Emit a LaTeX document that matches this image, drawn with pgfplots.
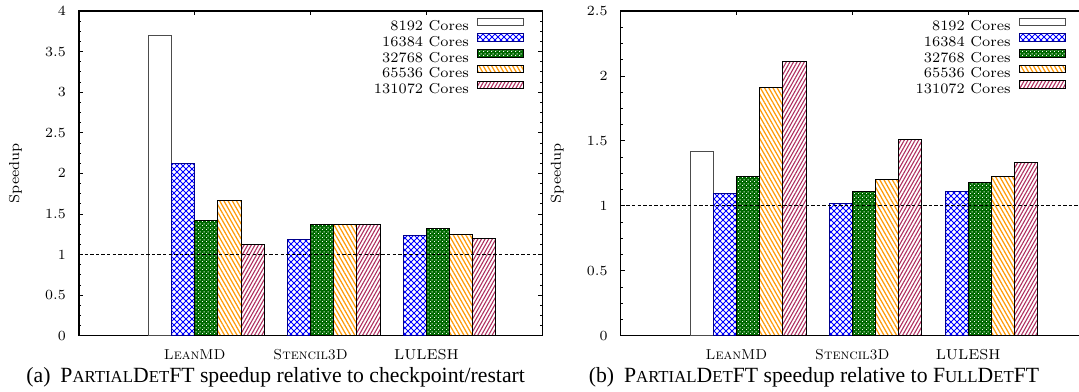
\documentclass[border=0pt]{standalone}
\usepackage{fontspec}
\usepackage{pgfplots}
\pgfplotsset{compat=1.18}
\usetikzlibrary{patterns}
\newfontfamily\capfont{Liberation Serif}

\definecolor{dkgreen}{RGB}{0,105,0}
\definecolor{gorange}{RGB}{255,155,10}
\definecolor{gmaroon}{RGB}{176,48,96}
\definecolor{dkblue}{RGB}{0,0,140}

\pgfdeclarepatternformonly{dcross}{\pgfqpoint{-0.5pt}{-0.5pt}}{\pgfqpoint{3.5pt}{3.5pt}}{\pgfqpoint{3pt}{3pt}}{%
  \pgfsetlinewidth{0.38pt}%
  \pgfpathmoveto{\pgfqpoint{0pt}{0pt}}\pgfpathlineto{\pgfqpoint{3pt}{3pt}}%
  \pgfpathmoveto{\pgfqpoint{0pt}{3pt}}\pgfpathlineto{\pgfqpoint{3pt}{0pt}}%
  \pgfusepath{stroke}}
\pgfdeclarepatternformonly{gdots}{\pgfqpoint{0pt}{0pt}}{\pgfqpoint{1.8pt}{1.8pt}}{\pgfqpoint{1.8pt}{1.8pt}}{%
  \pgfpathrectangle{\pgfqpoint{0pt}{0pt}}{\pgfqpoint{0.55pt}{0.55pt}}%
  \pgfpathrectangle{\pgfqpoint{0.9pt}{0.9pt}}{\pgfqpoint{0.55pt}{0.55pt}}%
  \pgfusepath{fill}}
\pgfdeclarepatternformonly{olines}{\pgfqpoint{-0.5pt}{-0.5pt}}{\pgfqpoint{2.6pt}{4.2pt}}{\pgfqpoint{2.1pt}{3.7pt}}{%
  \pgfsetlinewidth{0.62pt}%
  \pgfpathmoveto{\pgfqpoint{0pt}{3.7pt}}\pgfpathlineto{\pgfqpoint{2.1pt}{0pt}}%
  \pgfusepath{stroke}}
\pgfdeclarepatternformonly{mlines}{\pgfqpoint{-0.5pt}{-0.5pt}}{\pgfqpoint{2.3pt}{3.7pt}}{\pgfqpoint{1.8pt}{3.2pt}}{%
  \pgfsetlinewidth{0.55pt}%
  \pgfpathmoveto{\pgfqpoint{0pt}{0pt}}\pgfpathlineto{\pgfqpoint{1.8pt}{3.2pt}}%
  \pgfusepath{stroke}}

\newcommand{\chfont}{\fontsize{7.2}{8.2}\selectfont}
\newcommand{\fsc}{\fontsize{8.4}{9}\selectfont}

\pgfplotsset{
  myax/.style={
    scale only axis, width=231.65pt, height=162.35pt,
    xmin=-1.1, xmax=2.9, ymin=0,
    xtick={-0.1,0.9,1.9},
    xticklabels={\textsc{LeanMD},\textsc{Stencil3D},LULESH},
    x tick label style={font=\chfont, yshift=-3.5pt},
    y tick label style={font=\chfont, xshift=-3pt},
    ylabel style={font=\chfont},
    minor y tick num=3,
    tick align=inside,
    major tick length=2.2pt, minor tick length=1.2pt,
    every tick/.style={black, line width=0.4pt},
    axis line style={line width=0.6pt},
    legend cell align=right, legend plot pos=right,
    legend style={draw=none, fill=none, inner sep=0pt, at={(1,1)}, anchor=north east,
      xshift=-9pt, yshift=-3.15pt, font=\chfont,
      nodes={inner sep=0.5pt, text height=5.5pt, text depth=1.5pt},
      column sep=3.7pt, row sep=-0.7pt},
    legend image code/.code={\draw[##1] (0pt,0.5pt) rectangle (22.8pt,4.3pt);},
    b8192/.style={ybar, bar width=0.2, bar shift=0pt, draw=black!70, line width=0.5pt, fill=white},
    b16384/.style={ybar, bar width=0.2, bar shift=0pt, draw=dkblue, line width=0.5pt, pattern=dcross, pattern color=blue},
    b32768/.style={ybar, bar width=0.2, bar shift=0pt, draw=black, line width=0.5pt, fill=dkgreen, postaction={pattern=gdots, pattern color=white}},
    b65536/.style={ybar, bar width=0.2, bar shift=0pt, draw=black, line width=0.5pt, pattern=olines, pattern color=gorange},
    b131072/.style={ybar, bar width=0.2, bar shift=0pt, draw=black, line width=0.5pt, pattern=mlines, pattern color=gmaroon},
    oneline/.style={sharp plot, black, line width=0.45pt, dash pattern=on 1.7pt off 1.1pt, forget plot},
  }
}

\begin{document}
\begin{tikzpicture}
\useasboundingbox (0,0) rectangle (539.5pt,195.5pt);
\clip (0,0) rectangle (539.5pt,195.5pt);

% (a) speedup relative to checkpoint/restart
\begin{axis}[myax, at={(39.5pt,27.65pt)}, anchor=south west,
  ymax=4, ytick={0,0.5,1,1.5,2,2.5,3,3.5,4},
  ylabel={Speedup}, ylabel style={at={(axis description cs:-0.137,0.5)}, anchor=center}]
\addplot[b8192]   coordinates {(-0.4,3.695)};
\addplot[b16384]  coordinates {(-0.2,2.127) (0.8,1.190) (1.8,1.238)};
\addplot[b32768]  coordinates {(0,1.420) (1,1.374) (2,1.325)};
\addplot[b65536]  coordinates {(0.2,1.663) (1.2,1.374) (2.2,1.250)};
\addplot[b131072] coordinates {(0.4,1.127) (1.4,1.366) (2.4,1.200)};
\addplot[oneline] coordinates {(-1.1,1) (2.9,1)};
\legend{8192 Cores,16384 Cores,32768 Cores,65536 Cores,131072 Cores}
\end{axis}

% (b) speedup relative to FullDetFT
\begin{axis}[myax, at={(310.35pt,27.65pt)}, anchor=south west,
  ymax=2.5, ytick={0,0.5,1,1.5,2,2.5},
  ylabel={Speedup}, ylabel style={at={(axis description cs:-0.137,0.5)}, anchor=center}]
\addplot[b8192]   coordinates {(-0.4,1.415)};
\addplot[b16384]  coordinates {(-0.2,1.098) (0.8,1.021) (1.8,1.114)};
\addplot[b32768]  coordinates {(0,1.229) (1,1.111) (2,1.183)};
\addplot[b65536]  coordinates {(0.2,1.908) (1.2,1.199) (2.2,1.222)};
\addplot[b131072] coordinates {(0.4,2.109) (1.4,1.512) (2.4,1.337)};
\addplot[oneline] coordinates {(-1.1,1) (2.9,1)};
\legend{8192 Cores,16384 Cores,32768 Cores,65536 Cores,131072 Cores}
\end{axis}

\node[font=\capfont\fontsize{10.85}{12}\selectfont, anchor=west, inner sep=0pt] at (13pt,7pt)
  {(a)\hspace{5pt}P{\fsc ARTIAL}D{\fsc ET}FT speedup relative to checkpoint/restart};
\node[font=\capfont\fontsize{10.85}{12}\selectfont, anchor=center, inner sep=0pt] at (407pt,7pt)
  {(b)\hspace{5pt}P{\fsc ARTIAL}D{\fsc ET}FT speedup relative to F{\fsc ULL}D{\fsc ET}FT};
\end{tikzpicture}
\end{document}
